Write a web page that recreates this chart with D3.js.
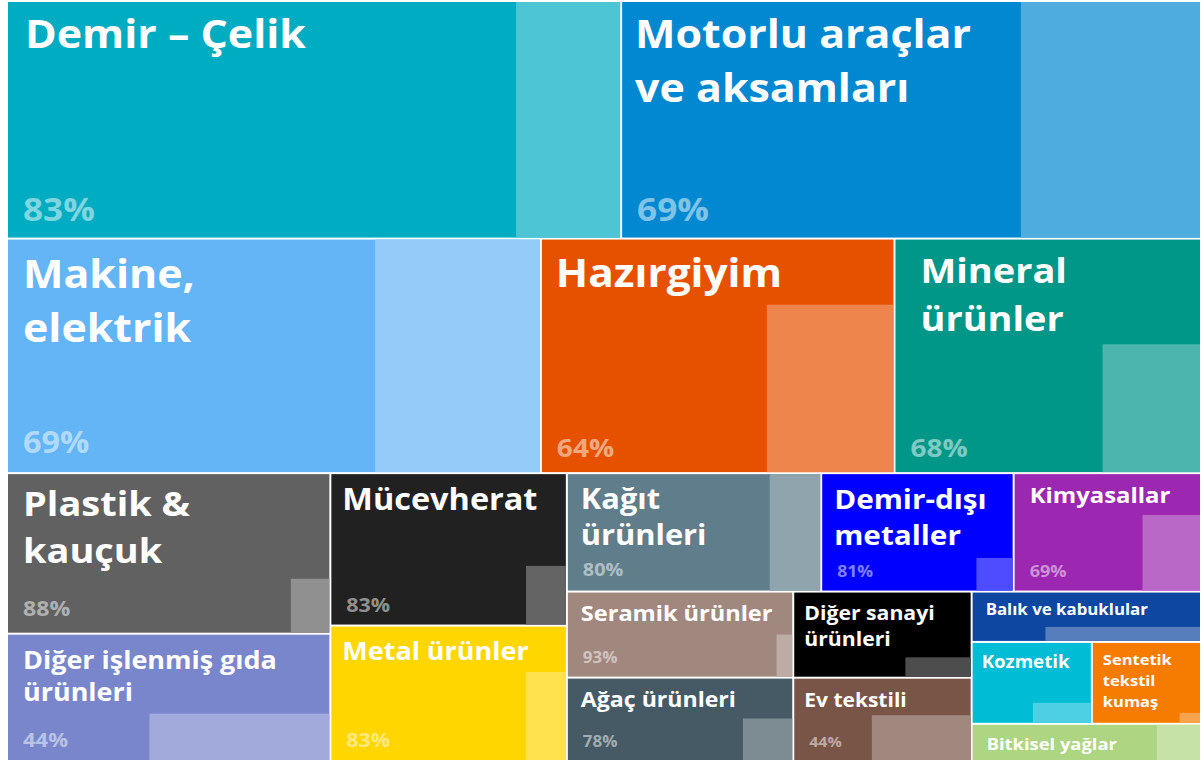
<!DOCTYPE html>
<html>
<head>
<meta charset="utf-8">
<script src="https://cdn.jsdelivr.net/npm/d3@7/dist/d3.min.js"></script>
<style>
  body { margin: 0; background: #fff; }
  svg { display: block; }
  text { font-family: "Open Sans", "Noto Sans", sans-serif; font-weight: 700; }
</style>
</head>
<body>
<div id="treemap"></div>
<script>
// sector names ("\n" = line break in the tile label)
const sectors = [
  "Demir – Çelik", "Motorlu araçlar\nve aksamları",
  "Makine,\nelektrik", "Hazırgiyim", "Mineral\nürünler",
  "Plastik &\nkauçuk", "Diğer işlenmiş gıda\nürünleri",
  "Mücevherat", "Metal ürünler",
  "Kağıt\nürünleri", "Demir-dışı\nmetaller", "Kimyasallar",
  "Seramik ürünler", "Ağaç ürünleri",
  "Diğer sanayi\nürünleri", "Ev tekstili",
  "Balık ve kabuklular", "Kozmetik", "Sentetik\ntekstil\nkumaş", "Bitkisel yağlar"
];
// export value (tile size)
const values = [1453, 1372, 1247, 826, 716, 517, 410, 359, 319, 300, 227, 221, 194, 188, 153, 148, 115, 98, 89, 85];
// share shown as % (dark part of the tile width)
const shares = [83, 69, 69, 64, 68, 88, 44, 83, 83, 80, 81, 69, 93, 78, 63, 44, 32, 51, 81, 81];
// height of the light part relative to the tile
const lightHeight = [1, 1, 1, 0.72, 0.55, 0.34, 0.37, 0.39, 0.66, 1, 0.28, 0.65, 0.5, 0.51, 0.23, 0.55, 0.29, 0.25, 0.125, 1];
// tiles that show no % label
const noLabel = ["Diğer sanayi\nürünleri", "Balık ve kabuklular", "Kozmetik", "Sentetik\ntekstil\nkumaş", "Bitkisel yağlar"];

const colors = ["#00acc1", "#0288d1", "#64b5f6", "#e65100", "#009688", "#616161", "#7986cb",
  "#212121", "#ffd600", "#607d8b", "#0000ff", "#9c27b0", "#a1887f", "#455a64",
  "#000000", "#795548", "#0d47a1", "#00bcd4", "#f57c00", "#aed581"];

// how the tiles are nested: h = side by side, v = stacked
const layout = {dir: "v", children: [
  {dir: "h", children: [0, 1]},
  {dir: "h", children: [2, 3, 4]},
  {dir: "h", children: [
    {dir: "v", children: [5, 6]},
    {dir: "v", children: [7, 8]},
    {dir: "v", children: [
      {dir: "h", children: [9, 10, 11]},
      {dir: "h", children: [
        {dir: "v", children: [12, 13]},
        {dir: "v", children: [14, 15]},
        {dir: "v", children: [16, {dir: "h", children: [17, 18]}, 19]}
      ]}
    ]}
  ]}
]};

// label styles: size, dx, first baseline, line height, % size, % offset from bottom
const labelStyle = [
  {fs: 39, dx: 17, dy: 46, lh: 54, ps: 32, pb: 17},
  {fs: 39, dx: 13, dy: 46, lh: 54, ps: 32, pb: 17},
  {fs: 39, dx: 15, dy: 48, lh: 54, ps: 29.5, pb: 19},
  {fs: 38.5, dx: 14, dy: 47, lh: 54, ps: 25.5, pb: 15},
  {fs: 34.5, dx: 25, dy: 43, lh: 48, ps: 25.5, pb: 15},
  {fs: 34.5, dx: 15, dy: 42, lh: 47, ps: 21, pb: 17},
  {fs: 24.5, dx: 15, dy: 34, lh: 32, ps: 20, pb: 13},
  {fs: 29.5, dx: 11, dy: 36, lh: 36, ps: 19.5, pb: 13},
  {fs: 24.5, dx: 11, dy: 33, lh: 32, ps: 19.5, pb: 13},
  {fs: 28, dx: 13, dy: 35, lh: 36, ps: 18, pb: 15},
  {fs: 27, dx: 12, dy: 35, lh: 36, ps: 16, pb: 14},
  {fs: 21.7, dx: 15, dy: 29, lh: 30, ps: 16.4, pb: 14},
  {fs: 21.4, dx: 13, dy: 28, lh: 30, ps: 15.4, pb: 14},
  {fs: 21, dx: 13, dy: 28, lh: 30, ps: 15.4, pb: 13},
  {fs: 19.3, dx: 10, dy: 27, lh: 26, ps: 15, pb: 13},
  {fs: 19.1, dx: 10, dy: 28, lh: 26, ps: 14.5, pb: 13},
  {fs: 15.3, dx: 13, dy: 22, lh: 22, ps: 14, pb: 10},
  {fs: 17, dx: 9, dy: 25, lh: 22, ps: 14, pb: 10},
  {fs: 15, dx: 10, dy: 22, lh: 21, ps: 14, pb: 10},
  {fs: 16.7, dx: 14, dy: 25, lh: 22, ps: 14, pb: 10}
];
const stretch = 1.1; // labels are a little wider than the font's own shapes

const width = 1203, height = 762;
const margin = {top: 2, left: 8, right: 3, bottom: 2};

function build(node) {
  if (typeof node === "number") return {id: node, name: sectors[node], value: values[node]};
  return {dir: node.dir, children: node.children.map(build)};
}

const root = d3.hierarchy(build(layout))
  .sum(d => d.value || 0);

d3.treemap()
  .tile((node, x0, y0, x1, y1) =>
    (node.data.dir === "h" ? d3.treemapDice : d3.treemapSlice)(node, x0, y0, x1, y1))
  .size([width - margin.left - margin.right, height - margin.top - margin.bottom])
  .paddingInner(2)(root);

const svg = d3.select("#treemap").append("svg")
  .attr("width", width)
  .attr("height", height);

const g = svg.append("g")
  .attr("transform", `translate(${margin.left},${margin.top})`);

const cell = g.selectAll("g.cell")
  .data(root.leaves())
  .join("g")
  .attr("class", "cell")
  .attr("transform", d => `translate(${d.x0},${d.y0})`);

cell.append("rect")
  .attr("width", d => d.x1 - d.x0)
  .attr("height", d => d.y1 - d.y0)
  .attr("fill", d => colors[d.data.id]);

// light part, anchored bottom-right
cell.append("rect")
  .attr("x", d => (d.x1 - d.x0) * shares[d.data.id] / 100)
  .attr("y", d => (d.y1 - d.y0) * (1 - lightHeight[d.data.id]))
  .attr("width", d => (d.x1 - d.x0) * (1 - shares[d.data.id] / 100))
  .attr("height", d => (d.y1 - d.y0) * lightHeight[d.data.id])
  .attr("fill", d => d3.interpolateRgb(colors[d.data.id], "#fff")(0.3));

cell.append("text")
  .attr("fill", "#fff")
  .attr("font-size", d => labelStyle[d.data.id].fs)
  .attr("transform", d => `translate(${labelStyle[d.data.id].dx},0) scale(${stretch},1)`)
  .selectAll("tspan")
  .data(d => d.data.name.split("\n").map((line, i) => ({line, i, s: labelStyle[d.data.id]})))
  .join("tspan")
  .attr("x", 0)
  .attr("y", t => t.s.dy + t.i * t.s.lh)
  .text(t => t.line);

cell.filter(d => !noLabel.includes(d.data.name))
  .append("text")
  .attr("transform", d => `translate(15,${(d.y1 - d.y0) - labelStyle[d.data.id].pb}) scale(${stretch},1)`)
  .attr("font-size", d => labelStyle[d.data.id].ps)
  .attr("fill", "#fff")
  .attr("fill-opacity", 0.5)
  .text(d => shares[d.data.id] + "%");
</script>
</body>
</html>
